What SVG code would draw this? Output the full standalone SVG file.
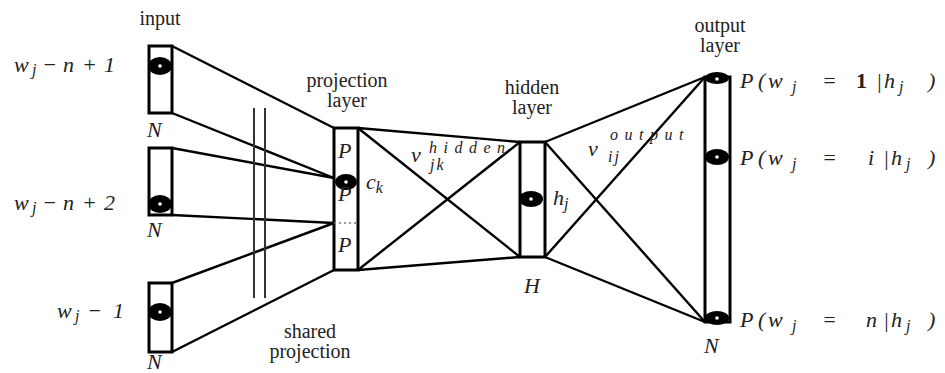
<svg xmlns="http://www.w3.org/2000/svg" width="945" height="373" viewBox="0 0 945 373">
<style>
.box{fill:none;stroke:#000;stroke-width:3}
.ln{stroke:#000;stroke-width:2.4;fill:none}
.txt{font-size:20px;fill:#222}
.m{font-style:italic;font-size:22px;fill:#222}
.sub{font-size:16px}
.unit{fill:#000}
.dot{fill:#fff}
</style>
<rect width="945" height="373" fill="#fff"/>
<g id="connectors">
<line class="ln" x1="172" y1="46" x2="334" y2="128"/>
<line class="ln" x1="172" y1="113" x2="334" y2="178"/>
<line class="ln" x1="172" y1="148" x2="334" y2="178"/>
<line class="ln" x1="172" y1="215" x2="334" y2="223"/>
<line class="ln" x1="172" y1="283" x2="334" y2="223"/>
<line class="ln" x1="172" y1="352" x2="334" y2="270"/>
<line class="ln" x1="358" y1="128" x2="520" y2="142"/>
<line class="ln" x1="358" y1="128" x2="520" y2="257"/>
<line class="ln" x1="358" y1="270" x2="520" y2="142"/>
<line class="ln" x1="358" y1="270" x2="520" y2="257"/>
<line class="ln" x1="545" y1="142" x2="705" y2="77"/>
<line class="ln" x1="545" y1="142" x2="705" y2="322"/>
<line class="ln" x1="545" y1="257" x2="705" y2="77"/>
<line class="ln" x1="545" y1="257" x2="705" y2="322"/>
<line x1="254" y1="108" x2="254" y2="298" stroke="#333" stroke-width="2"/>
<line x1="265" y1="108" x2="265" y2="298" stroke="#333" stroke-width="2"/>
</g>
<g id="labels" style="font-family:'Liberation Serif','DejaVu Serif','Times New Roman',serif">
<g id="input1">
<rect class="box" x="149" y="46" width="23" height="67"/>
<ellipse class="unit" cx="160" cy="66" rx="12" ry="9"/><circle class="dot" cx="160" cy="66" r="1.8"/>
<text class="m" y="72"><tspan x="14">w</tspan><tspan class="sub" x="32" dy="3">j</tspan><tspan x="42" dy="-3">−</tspan><tspan x="63">n</tspan><tspan x="82">+</tspan><tspan x="104">1</tspan></text>
<text class="m" x="147" y="137">N</text>
</g>
<g id="input2">
<rect class="box" x="149" y="148" width="23" height="67"/>
<ellipse class="unit" cx="160" cy="204" rx="12" ry="9"/><circle class="dot" cx="160" cy="204" r="1.8"/>
<text class="m" y="210"><tspan x="14">w</tspan><tspan class="sub" x="32" dy="3">j</tspan><tspan x="42" dy="-3">−</tspan><tspan x="63">n</tspan><tspan x="82">+</tspan><tspan x="104">2</tspan></text>
<text class="m" x="147" y="237">N</text>
</g>
<g id="input3">
<rect class="box" x="149" y="283" width="23" height="69"/>
<ellipse class="unit" cx="160" cy="312" rx="12" ry="9"/><circle class="dot" cx="160" cy="312" r="1.8"/>
<text class="m" y="318"><tspan x="57">w</tspan><tspan class="sub" x="75" dy="3">j</tspan><tspan x="87" dy="-3">−</tspan><tspan x="113">1</tspan></text>
<text class="m" x="147" y="369" font-size="20">N</text>
</g>
<g id="input-label"><text class="txt" x="160" y="25" text-anchor="middle">input</text></g>
<g id="projection">
<rect class="box" x="334" y="128" width="24" height="142"/>
<line x1="334" y1="223" x2="358" y2="223" stroke="#777" stroke-width="1.5" stroke-dasharray="2 3"/>
<ellipse class="unit" cx="346" cy="182" rx="11" ry="8"/><circle class="dot" cx="346" cy="182" r="1.8"/>
<text class="m" x="338" y="158" font-size="18">P</text>
<text class="m" x="338" y="201" font-size="18">P</text>
<text class="m" x="338" y="252" font-size="18">P</text>
<text class="m" x="366" y="189">c<tspan class="sub" dy="4">k</tspan></text>
<text class="txt" x="347" y="87" text-anchor="middle">projection</text>
<text class="txt" x="347" y="107" text-anchor="middle">layer</text>
<text class="txt" x="310" y="338" text-anchor="middle">shared</text>
<text class="txt" x="310" y="358" text-anchor="middle">projection</text>
</g>
<g id="hidden">
<rect class="box" x="520" y="142" width="25" height="115"/>
<ellipse class="unit" cx="531" cy="199" rx="12" ry="8"/><circle class="dot" cx="531" cy="199" r="1.8"/>
<text class="m" x="553" y="205">h<tspan class="sub" dy="4">j</tspan></text>
<text class="m" x="524" y="293">H</text>
<text class="txt" x="532" y="94" text-anchor="middle">hidden</text>
<text class="txt" x="532" y="114" text-anchor="middle">layer</text>
<text class="m" x="411" y="162" font-size="24">v</text>
<text class="m sub" x="429" y="153" letter-spacing="6.5">hidden</text>
<text class="m sub" x="430" y="170" letter-spacing="2">jk</text>
</g>
<g id="output">
<rect class="box" x="705" y="77" width="25" height="245"/>
<ellipse class="unit" cx="717" cy="78" rx="12" ry="6"/><circle class="dot" cx="717" cy="79" r="1.8"/>
<ellipse class="unit" cx="717" cy="157" rx="12" ry="8"/><circle class="dot" cx="717" cy="157" r="1.8"/>
<ellipse class="unit" cx="717" cy="318" rx="12" ry="7"/><circle class="dot" cx="717" cy="318" r="1.8"/>
<text class="m" y="88" font-size="24"><tspan x="740">P</tspan><tspan x="758">(</tspan><tspan x="768">w</tspan><tspan class="sub" x="792" dy="4">j</tspan><tspan x="822" dy="-4">=</tspan><tspan x="856" font-style="normal" font-weight="bold">1</tspan><tspan x="876">|</tspan><tspan x="884">h</tspan><tspan class="sub" x="899" dy="4">j</tspan><tspan x="928" dy="-4">)</tspan></text>
<text class="m" y="165" font-size="24"><tspan x="740">P</tspan><tspan x="758">(</tspan><tspan x="768">w</tspan><tspan class="sub" x="792" dy="4">j</tspan><tspan x="822" dy="-4">=</tspan><tspan x="868">i</tspan><tspan x="883">|</tspan><tspan x="891">h</tspan><tspan class="sub" x="906" dy="4">j</tspan><tspan x="928" dy="-4">)</tspan></text>
<text class="m" y="327" font-size="24"><tspan x="740">P</tspan><tspan x="758">(</tspan><tspan x="768">w</tspan><tspan class="sub" x="792" dy="4">j</tspan><tspan x="822" dy="-4">=</tspan><tspan x="866">n</tspan><tspan x="883">|</tspan><tspan x="891">h</tspan><tspan class="sub" x="906" dy="4">j</tspan><tspan x="928" dy="-4">)</tspan></text>
<text class="m" x="704" y="353">N</text>
<text class="txt" x="720" y="32" text-anchor="middle">output</text>
<text class="txt" x="720" y="52" text-anchor="middle">layer</text>
<text class="m" x="588" y="156" font-size="24">v</text>
<text class="m sub" x="610" y="140" letter-spacing="6.5">output</text>
<text class="m sub" x="608" y="162" letter-spacing="2">ij</text>
</g>
</g>
</svg>
